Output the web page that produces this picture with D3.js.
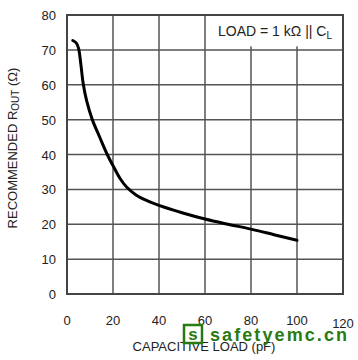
<!DOCTYPE html>
<meta charset="utf-8">
<style>
body { margin: 0; background: #fff; }
svg text { font-family: "Liberation Sans", Arial, sans-serif; fill: #222; }
.grid line { stroke: #555; stroke-width: 1.5; }
</style>
<svg width="358" height="360"></svg>
<script src="https://d3js.org/d3.v7.min.js"></script>
<script>
// curve
var capLoad = [2.5, 4, 5, 6, 7, 8.5, 11, 14, 17.5, 20, 23, 26, 30, 35, 40, 50, 60, 70, 80, 90, 100];
var rOut    = [72.7, 72, 70.5, 66, 60.5, 55.5, 50, 45.3, 40, 36.8, 33.2, 30.6, 28.4, 26.7, 25.4, 23.3, 21.5, 20, 18.6, 17, 15.4];
var xTicks = [0, 20, 40, 60, 80, 100, 120];
var yTicks = [0, 10, 20, 30, 40, 50, 60, 70, 80];

var svg = d3.select("svg");
var margin = {top: 15, left: 67, right: 15, bottom: 66};
var width = 358 - margin.left - margin.right,
    height = 360 - margin.top - margin.bottom;

var x = d3.scaleLinear().domain([0, 120]).range([0, width]);
var y = d3.scaleLinear().domain([0, 80]).range([height, 0]);

var g = svg.append("g").attr("transform", "translate(" + margin.left + "," + margin.top + ")");

var grid = g.append("g").attr("class", "grid");
grid.selectAll(".vx").data(xTicks).enter().append("line")
    .attr("x1", d => x(d)).attr("x2", d => x(d))
    .attr("y1", 0).attr("y2", height);
grid.selectAll(".hy").data(yTicks).enter().append("line")
    .attr("y1", d => y(d)).attr("y2", d => y(d))
    .attr("x1", 0).attr("x2", width);

// frame
g.append("rect").attr("width", width).attr("height", height)
    .attr("fill", "none").attr("stroke", "#444").attr("stroke-width", 2);

// legend box (covers the grid)
g.append("rect").attr("x", x(60) + 1).attr("y", 1)
    .attr("width", x(120) - x(60) - 2).attr("height", y(71) - 1)
    .attr("fill", "#fff");
var lt = g.append("text").attr("x", (x(60) + x(120)) / 2 + 1).attr("y", y(75.5) + 5)
    .attr("text-anchor", "middle").style("font-size", "14px");
lt.append("tspan").text("LOAD = 1 k\u03A9 || C");
lt.append("tspan").attr("dy", 3).style("font-size", "10px").text("L");

// curve
var line = d3.line().x(d => x(d[0])).y(d => y(d[1])).curve(d3.curveCatmullRom.alpha(0.5));
g.append("path").datum(d3.zip(capLoad, rOut))
    .attr("d", line).attr("fill", "none")
    .attr("stroke", "#000").attr("stroke-width", 3).attr("stroke-linecap", "round");

// tick labels
g.selectAll(".xl").data(xTicks).enter().append("text")
    .attr("x", d => x(d)).attr("y", d => height + (d === 120 ? 34 : 31))
    .attr("text-anchor", "middle").style("font-size", "13px").text(d => d);
g.selectAll(".yl").data(yTicks).enter().append("text")
    .attr("x", -11).attr("y", d => y(d) + 5)
    .attr("text-anchor", "end").style("font-size", "13px").text(d => d);

// axis titles
svg.append("text").attr("x", 204).attr("y", 351)
    .attr("text-anchor", "middle").style("font-size", "13px").text("CAPACITIVE LOAD (pF)");
var yt = svg.append("text").attr("transform", "translate(17,148) rotate(-90)")
    .attr("text-anchor", "middle").style("font-size", "13px");
yt.append("tspan").text("RECOMMENDED R");
yt.append("tspan").attr("dy", 2).style("font-size", "10px").text("OUT");
yt.append("tspan").attr("dy", -2).text(" (\u03A9)");

// watermark
svg.append("rect").attr("x", 184).attr("y", 325).attr("width", 18).attr("height", 18)
    .attr("fill", "none").attr("stroke", "#2a7a12").attr("stroke-width", 2.5);
svg.append("text").attr("x", 193).attr("y", 340).attr("text-anchor", "middle")
    .style("font-size", "17px").style("font-weight", "bold").style("fill", "#2a7a12").text("s");
svg.append("text").attr("x", 210).attr("y", 341)
    .style("font-size", "18px").style("font-weight", "bold").style("fill", "#2a7a12")
    .attr("textLength", 137).text("safetyemc.cn");
</script>
